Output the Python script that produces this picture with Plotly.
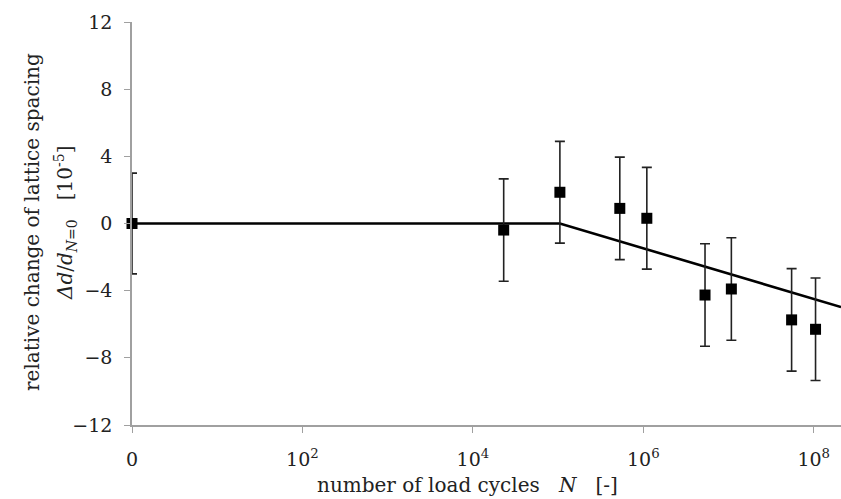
import plotly.graph_objects as go

# Data
cycles = [1, 2.3e4, 1.05e5, 5.3e5, 1.1e6, 5.3e6, 1.08e7, 5.5e7, 1.05e8]
strain = [0.0, -0.39, 1.86, 0.90, 0.31, -4.26, -3.90, -5.74, -6.30]
err = [3.0, 3.05, 3.03, 3.05, 3.03, 3.05, 3.05, 3.05, 3.05]

trend_cycles = [1, 1.05e5, 2.09e8]
trend_strain = [0.0, 0.0, -4.98]

x_tickvals = [1, 1e2, 1e4, 1e6, 1e8]
x_ticktext = ["0", "10<sup>2</sup>", "10<sup>4</sup>", "10<sup>6</sup>", "10<sup>8</sup>"]
y_tickvals = [-12, -8, -4, 0, 4, 8, 12]

y_title_1 = "relative change of lattice spacing"
y_title_2 = "<i>Δd</i>/<i>d</i><sub><i>N</i>=0</sub> \u00a0 [10<sup>-5</sup>]"
x_title = "number of load cycles \u00a0 <i>N</i> \u00a0 [-]"

FONT = "DejaVu Serif"
AXC = "#a0a0a0"
TXT = "#222222"

fig = go.Figure()
fig.add_trace(go.Scatter(
    x=trend_cycles, y=trend_strain, mode="lines",
    line=dict(color="black", width=2.6), showlegend=False, hoverinfo="skip"))
fig.add_trace(go.Scatter(
    x=cycles, y=strain, mode="markers",
    marker=dict(symbol="square", size=11, color="black"),
    error_y=dict(type="data", array=err, visible=True, color="#222222",
                 thickness=1.6, width=5),
    cliponaxis=False, showlegend=False))

fig.update_layout(
    width=841, height=499,
    margin=dict(l=132, r=0, t=22, b=74),
    paper_bgcolor="white", plot_bgcolor="white",
    font=dict(family=FONT, size=19, color=TXT),
    xaxis=dict(
        type="log", range=[0, 8.32], automargin=False,
        tickvals=x_tickvals, ticktext=x_ticktext,
        showgrid=False, zeroline=False,
        showline=True, linecolor=AXC, linewidth=1.5,
        ticks="outside", tickcolor=AXC, ticklen=6, tickwidth=1.3,
        tickfont=dict(size=19), ticklabelstandoff=10,
    ),
    yaxis=dict(
        range=[-12, 12], tickvals=y_tickvals, automargin=False,
        showgrid=False, zeroline=False,
        showline=True, linecolor=AXC, linewidth=1.5,
        ticks="outside", tickcolor=AXC, ticklen=6, tickwidth=1.3,
        tickfont=dict(size=19), ticklabelstandoff=8,
    ),
    annotations=[
        dict(text=y_title_1, xref="paper", yref="paper",
             x=(32 - 132) / 709, y=(425 - 222) / 403,
             xanchor="center", yanchor="middle", textangle=-90,
             showarrow=False, font=dict(size=20, color=TXT)),
        dict(text=y_title_2, xref="paper", yref="paper",
             x=(65 - 132) / 709, y=(425 - 223) / 403,
             xanchor="center", yanchor="middle", textangle=-90,
             showarrow=False, font=dict(size=20, color=TXT)),
        dict(text=x_title, xref="paper", yref="paper",
             x=(467 - 132) / 709, y=(425 - 485) / 403,
             xanchor="center", yanchor="middle",
             showarrow=False, font=dict(size=20, color=TXT)),
    ],
)

fig.write_html(
    "out.html",
    config={"displayModeBar": False},
    post_script="document.body.style.margin='0';document.body.style.overflow='hidden';",
)
